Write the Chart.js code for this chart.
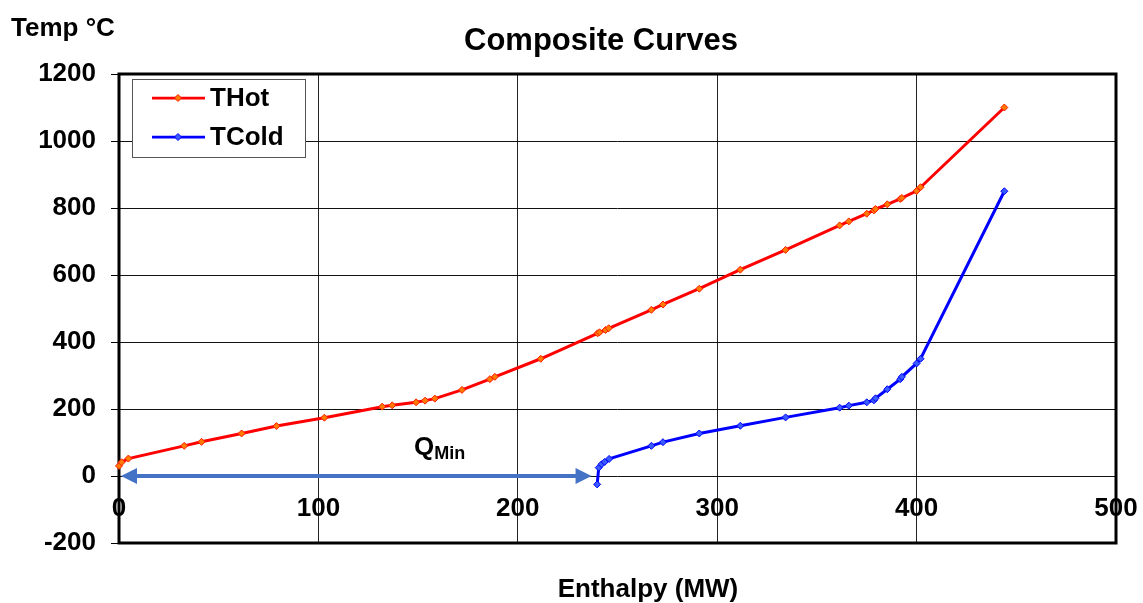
<!DOCTYPE html>
<html>
<head>
<meta charset="utf-8">
<script src="https://cdn.jsdelivr.net/npm/chart.js@4.4.1/dist/chart.umd.min.js"></script>
<style>
  html, body { margin: 0; padding: 0; background: #fff; }
  #wrap { width: 1143px; height: 603px; position: relative; }
</style>
</head>
<body>
<div id="wrap"><canvas id="c"></canvas></div>
<script>
// Hot composite curve: enthalpy (MW) and temperature (°C)
const hotEnthalpy = [0, 1.3, 4.7, 32.7, 41.4, 61.5, 79, 103, 132, 137, 149, 153.5, 158.4, 172, 186, 188.5, 211.5, 240, 241, 244, 245.6, 267, 272.8, 291, 311.6, 334.3, 361.4, 366, 375, 378.6, 379.4, 385.3, 391.8, 392.6, 400, 402, 444];
const hotTemp     = [30, 41, 52, 90, 102, 127, 149, 174, 207, 211, 220, 225, 231, 257, 289, 296, 350, 426, 429, 436, 441, 496, 512, 559, 616, 675, 748, 760, 783, 793, 797, 811, 827, 830, 851, 862, 1100];

// Cold composite curve
const coldEnthalpy = [239.8, 240.6, 242, 243.6, 245.8, 267, 272.8, 291, 311.6, 334.3, 361.4, 366, 375, 378.6, 379.4, 385.3, 391.8, 392.6, 400, 402, 444];
const coldTemp     = [-25, 25, 35, 42, 51, 90, 101, 127, 150, 175, 204, 210, 220, 226, 232, 259, 289, 296, 336, 350, 850];

// Axis ticks
const xTicks = [0, 100, 200, 300, 400, 500];
const yTicks = [-200, 0, 200, 400, 600, 800, 1000, 1200];

// Minimum heat-recovery gap arrow (enthalpy span at 0 °C) and its label anchor
const qMinSpan = [1, 237];
const qMinLabel = [148, 63];

const seriesNames = ['THot', 'TCold'];
const chartTitle = 'Composite Curves';
const xTitle = 'Enthalpy (MW)';
const yTitle = 'Temp °C';

const FONT = '"Liberation Sans", Arial, Helvetica, sans-serif';

const zip = (xs, ys) => xs.map((x, i) => ({ x, y: ys[i] }));

const decor = {
  id: 'decor',
  beforeDatasetsDraw(chart) {
    const { ctx, chartArea: a } = chart;
    ctx.save();
    ctx.strokeStyle = '#000';
    ctx.lineWidth = 3;
    ctx.strokeRect(a.left, a.top, a.right - a.left, a.bottom - a.top);
    ctx.restore();
  },
  afterDatasetsDraw(chart) {
    const { ctx, chartArea: a } = chart;
    const xs = chart.scales.x, ys = chart.scales.y;
    ctx.save();

    // double-headed Q_min arrow
    const x0 = xs.getPixelForValue(qMinSpan[0]);
    const x1 = xs.getPixelForValue(qMinSpan[1]);
    const y = ys.getPixelForValue(0);
    const head = 16, half = 8;
    ctx.strokeStyle = '#4472C4';
    ctx.fillStyle = '#4472C4';
    ctx.lineWidth = 4;
    ctx.beginPath();
    ctx.moveTo(x0 + head - 2, y);
    ctx.lineTo(x1 - head + 2, y);
    ctx.stroke();
    ctx.beginPath();
    ctx.moveTo(x0, y); ctx.lineTo(x0 + head, y - half); ctx.lineTo(x0 + head, y + half); ctx.closePath();
    ctx.fill();
    ctx.beginPath();
    ctx.moveTo(x1, y); ctx.lineTo(x1 - head, y - half); ctx.lineTo(x1 - head, y + half); ctx.closePath();
    ctx.fill();

    // Q_min label
    const lx = xs.getPixelForValue(qMinLabel[0]);
    const ly = ys.getPixelForValue(qMinLabel[1]);
    ctx.fillStyle = '#000';
    ctx.textBaseline = 'alphabetic';
    ctx.textAlign = 'left';
    ctx.font = 'bold 26px ' + FONT;
    ctx.fillText('Q', lx, ly);
    const qw = ctx.measureText('Q').width;
    ctx.font = 'bold 18px ' + FONT;
    ctx.fillText('Min', lx + qw, ly + 4);

    // legend box
    const bx = a.left + 13, by = a.top + 5, bw = 173, bh = 78;
    ctx.fillStyle = '#fff';
    ctx.fillRect(bx, by, bw, bh);
    ctx.strokeStyle = '#555';
    ctx.lineWidth = 1;
    ctx.strokeRect(bx + 0.5, by + 0.5, bw, bh);
    chart.data.datasets.forEach((ds, i) => {
      const cy = by + 19 + i * 39;
      ctx.strokeStyle = ds.borderColor;
      ctx.lineWidth = 2.75;
      ctx.beginPath();
      ctx.moveTo(bx + 20, cy);
      ctx.lineTo(bx + 73, cy);
      ctx.stroke();
      const mx = bx + 46, r = 3.5;
      ctx.beginPath();
      ctx.moveTo(mx, cy - r); ctx.lineTo(mx + r, cy); ctx.lineTo(mx, cy + r); ctx.lineTo(mx - r, cy); ctx.closePath();
      ctx.fillStyle = ds.pointBackgroundColor;
      ctx.fill();
      ctx.lineWidth = 1;
      ctx.strokeStyle = ds.pointBorderColor;
      ctx.stroke();
      ctx.fillStyle = '#000';
      ctx.font = 'bold 26px ' + FONT;
      ctx.textBaseline = 'middle';
      ctx.fillText(ds.label, bx + 78, cy + 1);
    });
    ctx.restore();
  },
  afterDraw(chart) {
    const { ctx } = chart;
    ctx.save();
    ctx.fillStyle = '#000';
    ctx.textBaseline = 'middle';
    ctx.font = 'bold 31px ' + FONT;
    ctx.textAlign = 'center';
    ctx.fillText(chartTitle, 601, 41);
    ctx.font = 'bold 26px ' + FONT;
    ctx.fillText(xTitle, 648, 590);
    ctx.textAlign = 'left';
    ctx.fillText(yTitle, 11, 29);
    ctx.restore();
  }
};

new Chart(document.getElementById('c'), {
  type: 'line',
  data: {
    datasets: [
      {
        label: seriesNames[0],
        data: zip(hotEnthalpy, hotTemp),
        borderColor: '#ff0000',
        borderWidth: 3,
        pointStyle: 'rectRot',
        pointRadius: 3.5,
        pointBackgroundColor: '#ff7a00',
        pointBorderColor: '#ff1a00',
        pointBorderWidth: 1,
        tension: 0,
        clip: false
      },
      {
        label: seriesNames[1],
        data: zip(coldEnthalpy, coldTemp),
        borderColor: '#0000ff',
        borderWidth: 3,
        pointStyle: 'rectRot',
        pointRadius: 3.5,
        pointBackgroundColor: '#3a5cff',
        pointBorderColor: '#0000ff',
        pointBorderWidth: 1,
        tension: 0,
        clip: false
      }
    ]
  },
  options: {
    responsive: true,
    maintainAspectRatio: false,
    animation: false,
    layout: { padding: { top: 74, right: 27, bottom: 60, left: 0 } },
    plugins: {
      legend: { display: false },
      title: { display: false },
      tooltip: { enabled: false }
    },
    scales: {
      x: {
        type: 'linear',
        position: { y: 0 },
        min: 0,
        max: 500,
        afterBuildTicks: s => { s.ticks = xTicks.map(v => ({ value: v })); },
        afterFit: s => { s.paddingLeft = 0; s.paddingRight = 0; },
        border: { display: false },
        grid: { color: '#222', lineWidth: 1, drawTicks: false },
        ticks: {
          padding: 17,
          color: '#000',
          font: { family: FONT, size: 26, weight: 'bold' },
          maxRotation: 0,
          autoSkip: false,
          callback: v => String(v)
        }
      },
      y: {
        type: 'linear',
        min: -200,
        max: 1200,
        afterBuildTicks: s => { s.ticks = yTicks.map(v => ({ value: v })); },
        afterFit: s => { s.width = 119; },
        border: { display: false },
        grid: { color: '#111', lineWidth: 1, tickLength: 8, tickColor: '#000' },
        ticks: {
          padding: 15,
          color: '#000',
          font: { family: FONT, size: 26, weight: 'bold' },
          autoSkip: false,
          callback: v => String(v)
        }
      }
    }
  },
  plugins: [decor]
});
</script>
</body>
</html>
